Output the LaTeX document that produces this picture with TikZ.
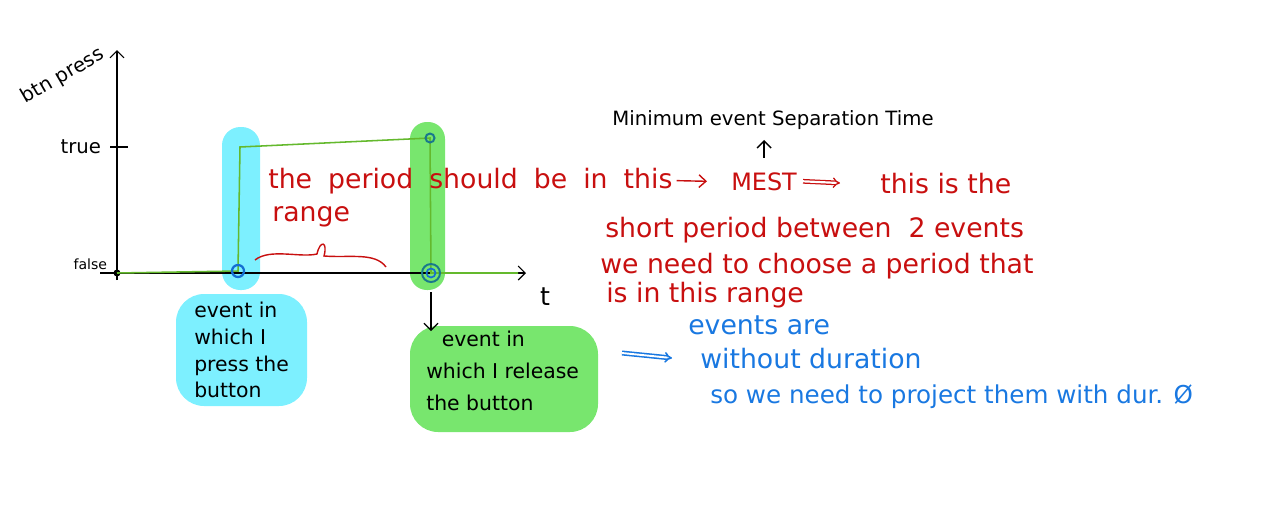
\documentclass[tikz,border=0pt]{standalone}
\usepackage{fontspec}
\setmainfont{DejaVu Sans}
\usetikzlibrary{arrows.meta,positioning}

\definecolor{hlcyan}{RGB}{125,240,255}
\definecolor{hlgreen}{RGB}{120,230,110}
\definecolor{sigline}{RGB}{100,185,45}
\definecolor{inkred}{RGB}{200,15,15}
\definecolor{inkblue}{RGB}{25,120,225}
\definecolor{ringblue}{RGB}{20,110,210}
\definecolor{ringteal}{RGB}{25,120,140}

\tikzset{
  note/.style={inner sep=0pt, anchor=base west, font=\fontsize{19}{23}\selectfont},
  rednote/.style={note, text=inkred},
  bluenote/.style={note, text=inkblue},
  evlabel/.style={inner sep=0pt, anchor=north west, align=left},
}

\begin{document}
\begin{tikzpicture}[x=0.025cm, y=-0.025cm, >={Straight Barb[length=5pt,width=10pt]}]
    \useasboundingbox (0,0) rectangle (1280,522);
    % highlighter marks
    \fill[hlcyan, rounded corners=13pt] (222,127) rectangle (260,290);
    \fill[hlgreen, rounded corners=12pt] (410,122) rectangle (445,290);
    \fill[hlcyan, rounded corners=20pt] (176,294) rectangle (307,406);
    \fill[hlgreen, rounded corners=20pt] (410,326) rectangle (598,432);
    % axes
    \coordinate (O) at (117,273);
    \draw[thick,->] (117,280) -- (117,50);
    \draw[thick,->] (100,273) -- (526,273);
    \draw[thick] (110,147) -- (128,147);
    \fill (O) circle (3.5);
    \node[anchor=east, font=\fontsize{14}{16}\selectfont] (truelbl) at (106,147) {true};
    \node[anchor=east, font=\fontsize{10}{12}\selectfont] (falselbl) at (112,264) {false};
    \node[rotate=30, font=\fontsize{14}{16}\selectfont] (ylbl) at (63,76) {btn press};
    \node[font=\fontsize{18}{21}\selectfont] (tlbl) at (545,297) {t};
    % button signal
    \coordinate (press) at (238,271);
    \coordinate (peak) at (430,138);
    \coordinate (release) at (431,273);
    \draw[sigline, line width=1.1pt] (O) -- (press) -- (240,147) -- (peak) -- (release) -- (518,273);
    \draw[ringblue, line width=1.6pt] (press) circle (6);
    \draw[ringteal, line width=1.4pt] (peak) circle (4.5);
    \draw[ringteal, line width=1.4pt] (release) circle (9);
    \draw[ringblue, line width=1.2pt] (release) circle (4.5);
    % labels of the events
    \node[evlabel, font=\fontsize{14.5}{19}\selectfont] (presslbl) at (194,302) {event in\\which I\\press the\\button};
    \node[evlabel, font=\fontsize{14.5}{22.5}\selectfont] (releaselbl) at (426,331) {\hspace{11pt}event in\\which I release\\the button};
    \draw[thick,->] (release) ++(0,19) -- (releaselbl.north -| release);
    % red notes
    \node[rednote, font={\fontsize{19}{23}\selectfont\spaceskip=0.6em\relax}] (period) at (268,188) {the period should be in this};
    \node[rednote] (range) at (272,221) {range};
    \draw[inkred, line width=1pt] (255,260) .. controls (270,248) and (300,258) .. (317,254) .. controls (320,240) and (328,241) .. (324,256) .. controls (350,258) and (375,252) .. (386,267);
    \node[rednote, font=\fontsize{17}{20}\selectfont] (mest) at (731,190) {MEST};
    \node[rednote] (thisis) at (880,193) {this is the};
    \node[rednote] (shortp) at (605,237) {short period between \ 2 events};
    \node[rednote] (choose) at (600,273) {we need to choose a period that};
    \node[rednote] (inrange) at (606,302) {is in this range};
    \draw[inkred, line width=1pt, -{Straight Barb[length=5pt,width=9pt]}] ([xshift=0.1cm]period.east) -- ([xshift=-0.6cm]mest.west);
    \draw[inkred, line width=0.9pt, double equal sign distance, -Implies] ([xshift=0.15cm]mest.east) -- ([xshift=-1cm]thisis.west);
    % MEST meaning
    \node[note, anchor=base, font=\fontsize{14}{17}\selectfont] (minimum) at (773,125) {Minimum event Separation Time};
    \draw[line width=1pt, ->] (mest.north) ++(0,-14) -- ++(0,-18);
    % blue notes
    \node[bluenote] (events) at (688,334) {events are};
    \node[bluenote] (without) at (700,368) {without duration};
    \node[bluenote, font=\fontsize{17.5}{21}\selectfont] (project) at (710,403) {so we need to project them with dur. Ø};
    \coordinate (bluefrom) at (622,353);
    \draw[inkblue, line width=1.1pt, double equal sign distance, -Implies] (bluefrom) -- ([xshift=-0.7cm]without.west);
\end{tikzpicture}
\end{document}
